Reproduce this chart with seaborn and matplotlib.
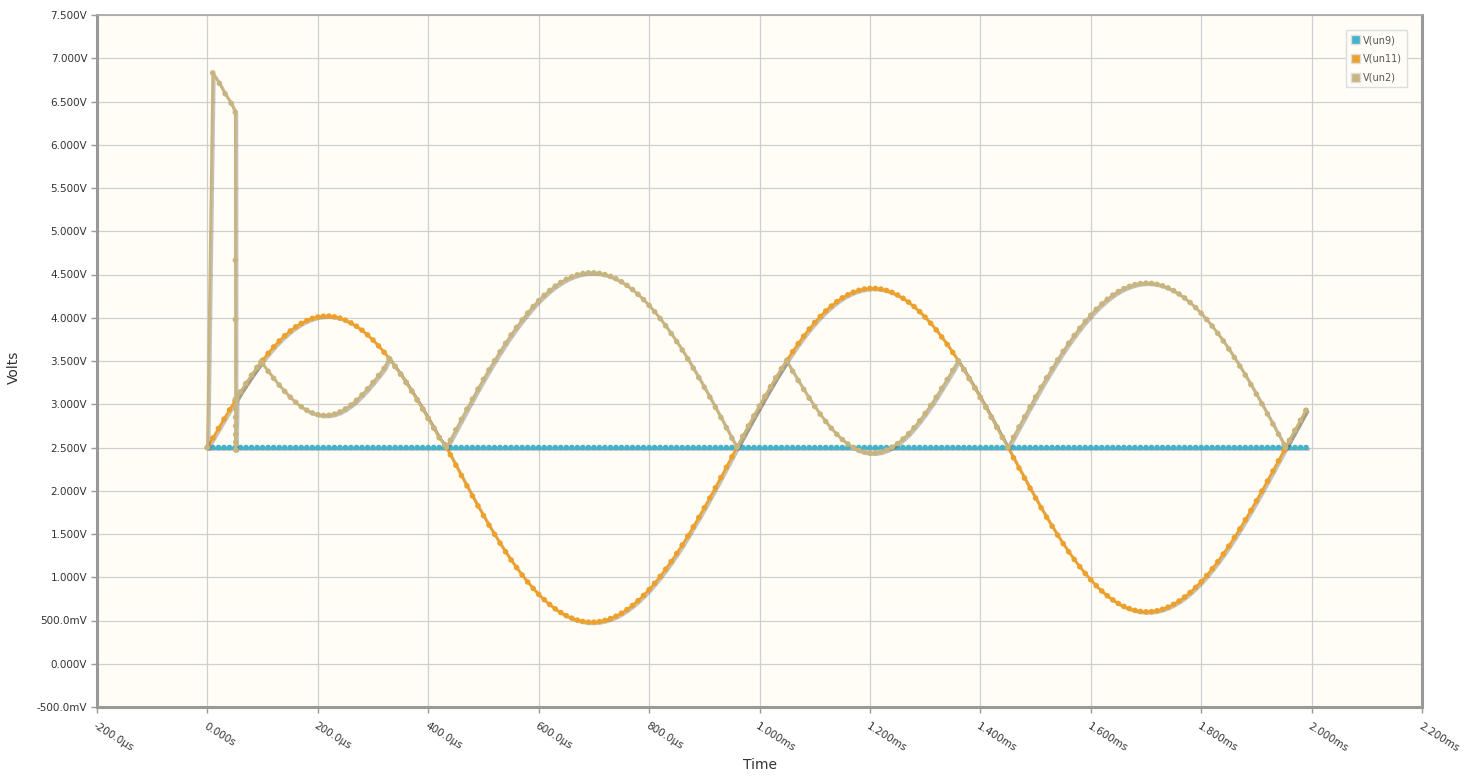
import pandas as pd
import numpy as np
import matplotlib
matplotlib.use('Agg')
import matplotlib.pyplot as plt
import matplotlib.patheffects as pe
from matplotlib.patches import Patch
from matplotlib.ticker import FuncFormatter, MultipleLocator
import seaborn as sns

# --- DATA (time in microseconds, values in volts) ---
time_us = [
    0, 10, 20, 30, 40, 50, 60, 70, 80, 90,
    100, 110, 120, 130, 140, 150, 160, 170, 180, 190,
    200, 210, 220, 230, 240, 250, 260, 270, 280, 290,
    300, 310, 320, 330, 340, 350, 360, 370, 380, 390,
    400, 410, 420, 430, 440, 450, 460, 470, 480, 490,
    500, 510, 520, 530, 540, 550, 560, 570, 580, 590,
    600, 610, 620, 630, 640, 650, 660, 670, 680, 690,
    700, 710, 720, 730, 740, 750, 760, 770, 780, 790,
    800, 810, 820, 830, 840, 850, 860, 870, 880, 890,
    900, 910, 920, 930, 940, 950, 960, 970, 980, 990,
    1000, 1010, 1020, 1030, 1040, 1050, 1060, 1070, 1080, 1090,
    1100, 1110, 1120, 1130, 1140, 1150, 1160, 1170, 1180, 1190,
    1200, 1210, 1220, 1230, 1240, 1250, 1260, 1270, 1280, 1290,
    1300, 1310, 1320, 1330, 1340, 1350, 1360, 1370, 1380, 1390,
    1400, 1410, 1420, 1430, 1440, 1450, 1460, 1470, 1480, 1490,
    1500, 1510, 1520, 1530, 1540, 1550, 1560, 1570, 1580, 1590,
    1600, 1610, 1620, 1630, 1640, 1650, 1660, 1670, 1680, 1690,
    1700, 1710, 1720, 1730, 1740, 1750, 1760, 1770, 1780, 1790,
    1800, 1810, 1820, 1830, 1840, 1850, 1860, 1870, 1880, 1890,
    1900, 1910, 1920, 1930, 1940, 1950, 1960, 1970, 1980, 1990,
]

v_un9 = [
    2.5, 2.5, 2.5, 2.5, 2.5, 2.5, 2.5, 2.5, 2.5, 2.5,
    2.5, 2.5, 2.5, 2.5, 2.5, 2.5, 2.5, 2.5, 2.5, 2.5,
    2.5, 2.5, 2.5, 2.5, 2.5, 2.5, 2.5, 2.5, 2.5, 2.5,
    2.5, 2.5, 2.5, 2.5, 2.5, 2.5, 2.5, 2.5, 2.5, 2.5,
    2.5, 2.5, 2.5, 2.5, 2.5, 2.5, 2.5, 2.5, 2.5, 2.5,
    2.5, 2.5, 2.5, 2.5, 2.5, 2.5, 2.5, 2.5, 2.5, 2.5,
    2.5, 2.5, 2.5, 2.5, 2.5, 2.5, 2.5, 2.5, 2.5, 2.5,
    2.5, 2.5, 2.5, 2.5, 2.5, 2.5, 2.5, 2.5, 2.5, 2.5,
    2.5, 2.5, 2.5, 2.5, 2.5, 2.5, 2.5, 2.5, 2.5, 2.5,
    2.5, 2.5, 2.5, 2.5, 2.5, 2.5, 2.5, 2.5, 2.5, 2.5,
    2.5, 2.5, 2.5, 2.5, 2.5, 2.5, 2.5, 2.5, 2.5, 2.5,
    2.5, 2.5, 2.5, 2.5, 2.5, 2.5, 2.5, 2.5, 2.5, 2.5,
    2.5, 2.5, 2.5, 2.5, 2.5, 2.5, 2.5, 2.5, 2.5, 2.5,
    2.5, 2.5, 2.5, 2.5, 2.5, 2.5, 2.5, 2.5, 2.5, 2.5,
    2.5, 2.5, 2.5, 2.5, 2.5, 2.5, 2.5, 2.5, 2.5, 2.5,
    2.5, 2.5, 2.5, 2.5, 2.5, 2.5, 2.5, 2.5, 2.5, 2.5,
    2.5, 2.5, 2.5, 2.5, 2.5, 2.5, 2.5, 2.5, 2.5, 2.5,
    2.5, 2.5, 2.5, 2.5, 2.5, 2.5, 2.5, 2.5, 2.5, 2.5,
    2.5, 2.5, 2.5, 2.5, 2.5, 2.5, 2.5, 2.5, 2.5, 2.5,
    2.5, 2.5, 2.5, 2.5, 2.5, 2.5, 2.5, 2.5, 2.5, 2.5,
]

v_un11 = [
    2.500, 2.610, 2.720, 2.828, 2.935, 3.039, 3.141, 3.239, 3.334, 3.424,
    3.509, 3.589, 3.663, 3.731, 3.792, 3.847, 3.895, 3.935, 3.968, 3.992,
    4.009, 4.018, 4.019, 4.011, 3.996, 3.972, 3.941, 3.902, 3.856, 3.802,
    3.742, 3.674, 3.601, 3.522, 3.437, 3.347, 3.252, 3.153, 3.051, 2.945,
    2.837, 2.726, 2.614, 2.533, 2.416, 2.295, 2.176, 2.057, 1.940, 1.825,
    1.713, 1.603, 1.497, 1.394, 1.295, 1.200, 1.111, 1.026, 0.946, 0.871,
    0.803, 0.741, 0.685, 0.635, 0.592, 0.556, 0.527, 0.504, 0.489, 0.481,
    0.481, 0.487, 0.501, 0.522, 0.549, 0.584, 0.626, 0.674, 0.729, 0.790,
    0.857, 0.930, 1.009, 1.093, 1.182, 1.275, 1.373, 1.475, 1.582, 1.691,
    1.803, 1.917, 2.034, 2.152, 2.271, 2.392, 2.512, 2.629, 2.747, 2.863,
    2.977, 3.090, 3.200, 3.307, 3.411, 3.512, 3.608, 3.700, 3.787, 3.869,
    3.945, 4.015, 4.078, 4.135, 4.186, 4.230, 4.266, 4.295, 4.317, 4.332,
    4.339, 4.339, 4.331, 4.316, 4.293, 4.263, 4.225, 4.181, 4.129, 4.071,
    4.007, 3.937, 3.860, 3.778, 3.691, 3.599, 3.502, 3.401, 3.297, 3.189,
    3.079, 2.966, 2.851, 2.735, 2.618, 2.500, 2.381, 2.263, 2.146, 2.030,
    1.916, 1.804, 1.695, 1.590, 1.487, 1.389, 1.295, 1.206, 1.122, 1.043,
    0.971, 0.902, 0.841, 0.786, 0.738, 0.697, 0.663, 0.637, 0.617, 0.605,
    0.600, 0.603, 0.613, 0.630, 0.655, 0.687, 0.725, 0.771, 0.824, 0.883,
    0.948, 1.020, 1.097, 1.180, 1.268, 1.360, 1.458, 1.559, 1.664, 1.772,
    1.883, 1.996, 2.111, 2.228, 2.346, 2.465, 2.581, 2.697, 2.813, 2.929,
]

# V(un2) has its own time points (start-up spike and corners)
t_un2 = [
    0, 9.6, 21.7, 32.0, 43.0, 50.5, 50.6, 50.7, 50.8, 50.9, 51.0, 51.1, 51.2, 51.3, 51.4, 53.0,
    60, 70, 80, 90, 97,
    100, 110, 120, 130, 140, 150, 160, 170, 180, 190,
    200, 210, 220, 230, 240, 250, 260, 270, 280, 290,
    300, 310, 320, 329,
    330, 340, 350, 360, 370, 380, 390, 400, 410, 420, 430, 433,
    440, 450, 460, 470, 480, 490, 500, 510, 520, 530,
    540, 550, 560, 570, 580, 590, 600, 610, 620, 630,
    640, 650, 660, 670, 680, 690, 700, 710, 720, 730,
    740, 750, 760, 770, 780, 790, 800, 810, 820, 830,
    840, 850, 860, 870, 880, 890, 900, 910, 920, 930,
    940, 950, 959,
    960, 970, 980, 990, 1000, 1010, 1020, 1030, 1040, 1049,
    1060, 1070, 1080, 1090, 1100, 1110, 1120, 1130, 1140, 1150,
    1160, 1170, 1180, 1190, 1200, 1210, 1220, 1230, 1240, 1250,
    1260, 1270, 1280, 1290, 1300, 1310, 1320, 1330, 1340, 1350, 1360,
    1370, 1380, 1390, 1400, 1410, 1420, 1430, 1440, 1450,
    1460, 1470, 1480, 1490, 1500, 1510, 1520, 1530, 1540, 1550,
    1560, 1570, 1580, 1590, 1600, 1610, 1620, 1630, 1640, 1650,
    1660, 1670, 1680, 1690, 1700, 1710, 1720, 1730, 1740, 1750,
    1760, 1770, 1780, 1790, 1800, 1810, 1820, 1830, 1840, 1850,
    1860, 1870, 1880, 1890, 1900, 1910, 1920, 1930, 1940, 1950, 1953,
    1960, 1970, 1980, 1990,
]
v_un2 = [
    2.500, 6.830, 6.710, 6.590, 6.480, 6.375, 4.665, 3.980, 3.060, 2.950, 2.850, 2.750, 2.650, 2.560, 2.470, 3.060,
    3.141, 3.239, 3.334, 3.424, 3.490,
    3.465, 3.381, 3.300, 3.222, 3.149, 3.082, 3.023, 2.972, 2.931, 2.900,
    2.880, 2.871, 2.873, 2.886, 2.911, 2.946, 2.991, 3.045, 3.108, 3.177,
    3.253, 3.332, 3.415, 3.530,
    3.522, 3.437, 3.347, 3.252, 3.153, 3.051, 2.945, 2.837, 2.726, 2.614, 2.533, 2.500,
    2.584, 2.705, 2.824, 2.943, 3.060, 3.175, 3.287, 3.397, 3.503, 3.606,
    3.705, 3.800, 3.889, 3.974, 4.054, 4.129, 4.197, 4.259, 4.315, 4.365,
    4.408, 4.444, 4.473, 4.496, 4.511, 4.519, 4.519, 4.513, 4.499, 4.478,
    4.451, 4.416, 4.374, 4.326, 4.271, 4.210, 4.143, 4.070, 3.991, 3.907,
    3.818, 3.725, 3.627, 3.525, 3.418, 3.309, 3.197, 3.083, 2.966, 2.848,
    2.729, 2.608, 2.500,
    2.512, 2.629, 2.747, 2.863, 2.977, 3.090, 3.200, 3.307, 3.411, 3.500,
    3.382, 3.276, 3.172, 3.071, 2.975, 2.885, 2.800, 2.723, 2.653, 2.592,
    2.541, 2.499, 2.467, 2.446, 2.436, 2.437, 2.448, 2.470, 2.503, 2.545,
    2.598, 2.659, 2.730, 2.808, 2.893, 2.985, 3.081, 3.183, 3.287, 3.393, 3.502,
    3.401, 3.297, 3.189, 3.079, 2.966, 2.851, 2.735, 2.618, 2.500,
    2.619, 2.737, 2.854, 2.970, 3.084, 3.196, 3.305, 3.410, 3.513, 3.611,
    3.705, 3.794, 3.878, 3.957, 4.029, 4.098, 4.159, 4.214, 4.262, 4.303,
    4.337, 4.363, 4.383, 4.395, 4.400, 4.397, 4.387, 4.370, 4.345, 4.313,
    4.275, 4.229, 4.176, 4.117, 4.052, 3.980, 3.903, 3.820, 3.732, 3.640,
    3.542, 3.441, 3.336, 3.228, 3.117, 3.004, 2.889, 2.772, 2.654, 2.535, 2.500,
    2.581, 2.697, 2.813, 2.929,
]

series_names = ['V(un9)', 'V(un11)', 'V(un2)']
series_colors = ['#46b2c9', '#eda12c', '#c8b47f']

# --- PLOT SETUP ---
fig = plt.figure(figsize=(14.74, 7.78), dpi=100)
ax = fig.add_axes([97 / 1474, 1 - 707 / 778, 1325 / 1474, 692 / 778])
ax.set_facecolor('#fffdf5')

frames = [
    pd.DataFrame({'t': time_us, 'v': v_un9}),
    pd.DataFrame({'t': time_us, 'v': v_un11}),
    pd.DataFrame({'t': t_un2, 'v': v_un2}),
]

shadow = [pe.SimpleLineShadow(offset=(1.2, -1.2), shadow_color='#555555', alpha=0.35),
          pe.Normal()]

for df, col in zip(frames, series_colors):
    sns.lineplot(data=df, x='t', y='v', ax=ax, color=col, sort=False, estimator=None,
                 linewidth=1.9, marker='o', markersize=4.0, markeredgewidth=0,
                 legend=False)
for line in ax.lines:
    line.set_path_effects(shadow)

# --- AXES & TICKS ---
ax.set_xlim(-200, 2200)
ax.set_ylim(-0.5, 7.5)
ax.xaxis.set_major_locator(MultipleLocator(200))
ax.yaxis.set_major_locator(MultipleLocator(0.5))


def fmt_time(t, pos):
    if abs(t) < 1e-9:
        return '0.000s'
    if abs(t) < 1000:
        return f'{t:.1f}\u00b5s'
    return f'{t / 1000:.3f}ms'


def fmt_volt(v, pos):
    if abs(v) < 1e-9:
        return '0.000V'
    if abs(v) < 1:
        return f'{v * 1000:.1f}mV'
    return f'{v:.3f}V'


ax.xaxis.set_major_formatter(FuncFormatter(fmt_time))
ax.yaxis.set_major_formatter(FuncFormatter(fmt_volt))
ax.grid(True, color='#cfcfcf', linewidth=0.9)
ax.set_axisbelow(True)
ax.tick_params(axis='both', colors='#999999', labelcolor='#333333', labelsize=7.5,
               length=4, width=1)
ax.tick_params(axis='y', pad=3)
for lab in ax.get_xticklabels():
    lab.set_rotation(-32)
    lab.set_ha('left')
    lab.set_va('top')
    lab.set_rotation_mode('anchor')
ax.tick_params(axis='x', pad=6)

for side in ['left', 'bottom', 'right']:
    ax.spines[side].set_color('#999999')
    ax.spines[side].set_linewidth(2.2)
ax.spines['top'].set_color('#aaaaaa')
ax.spines['top'].set_linewidth(1.3)

ax.set_xlabel('')
ax.set_ylabel('')
fig.text(14 / 1474, 1 - 367 / 778, 'Volts', rotation=90, ha='center', va='center',
         fontsize=10, color='#333333')
fig.text(760 / 1474, 1 - 765 / 778, 'Time', ha='center', va='center',
         fontsize=10, color='#333333')

# --- LEGEND ---
handles = [Patch(facecolor=c, edgecolor='#dddddd', label=n)
           for n, c in zip(series_names, series_colors)]
leg = ax.legend(handles=handles, loc='upper right', bbox_to_anchor=(0.9925, 0.985),
                fontsize=7, frameon=True, fancybox=False, handlelength=1.0,
                handleheight=1.0, handletextpad=0.3, labelspacing=0.9,
                borderpad=0.5, framealpha=1)
leg.get_frame().set_edgecolor('#dddddd')
leg.get_frame().set_facecolor('#fffdf5')
for txt in leg.get_texts():
    txt.set_color('#555555')

plt.savefig('out.png', dpi=100)
